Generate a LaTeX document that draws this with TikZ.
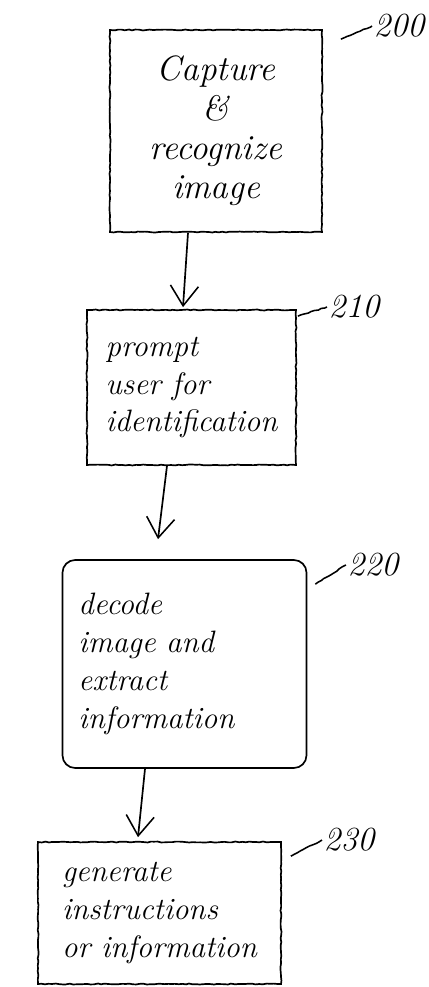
\documentclass[tikz,border=0pt]{standalone}
\usepackage{tikz}
\usetikzlibrary{arrows.meta,
  decorations.pathmorphing,
  positioning}

\tikzset{
  sketch/.style={decorate,decoration={random steps,segment length=2.5pt,amplitude=0.35pt}},
  procbox/.style={draw,line width=1.2pt,inner sep=0pt,
    font=\fontsize{22}{27}\selectfont\itshape},
  flow/.style={line width=1.2pt,-{Straight Barb[length=5mm,width=7mm,line width=1.1pt]}},
  refnum/.style={anchor=west,inner sep=1pt,font=\fontsize{24}{24}\selectfont\itshape},
  lead/.style={line width=1.1pt,sketch}
}

\begin{document}
\begin{tikzpicture}[x=0.25mm,y=-0.25mm]
  \useasboundingbox (0,0) rectangle (428,987);
  % process steps
  \node[procbox,sketch,align=center,minimum width=53mm,minimum height=50.5mm,
    font=\fontsize{25}{28}\selectfont\itshape]
    (capture) at (216,131) {Capture\\ \&\\ recognize\\ image};
  \node[procbox,sketch,align=left,minimum width=52.25mm,minimum height=38.75mm]
    (prompt) at (191.5,387.5) {prompt\\ user for\\ identification};
  \node[procbox,rounded corners=9pt,align=left,inner xsep=4mm,text width=53mm,
    minimum height=52mm]
    (decode) at (184.5,664) {decode\\ image and\\ extract\\ information};
  \node[procbox,sketch,align=left,minimum width=60.75mm,minimum height=35.5mm]
    (generate) at (159.5,913) {generate\\ instructions\\ or information};
  % reference numerals
  \node[refnum](n200) at (372,26) {200};
  \node[refnum](n210) at (327,307) {210};
  \node[refnum](n220) at (346,565) {220};
  \node[refnum](n230) at (322,840) {230};
  \draw[lead]([shift={(18,10)}]capture.north east)--(n200.west);
  \draw[lead]([shift={(1,7)}]prompt.north east)--(n210.west);
  \draw[lead]([shift={(8,25)}]decode.north east)--(n220.west);
  \draw[lead]([shift={(9,15)}]generate.north east)--(n230.west);
  % flow
  \draw[flow]([shift={(-28,0)}]capture.south)--([shift={(-8.5,-2)}]prompt.north);
  \draw[flow]([shift={(-24.5,0)}]prompt.south)--([shift={(-26.5,-20)}]decode.north);
  \draw[flow]([shift={(-39.5,0)}]decode.south)--([shift={(-21.5,-4)}]generate.north);
\end{tikzpicture}
\end{document}
